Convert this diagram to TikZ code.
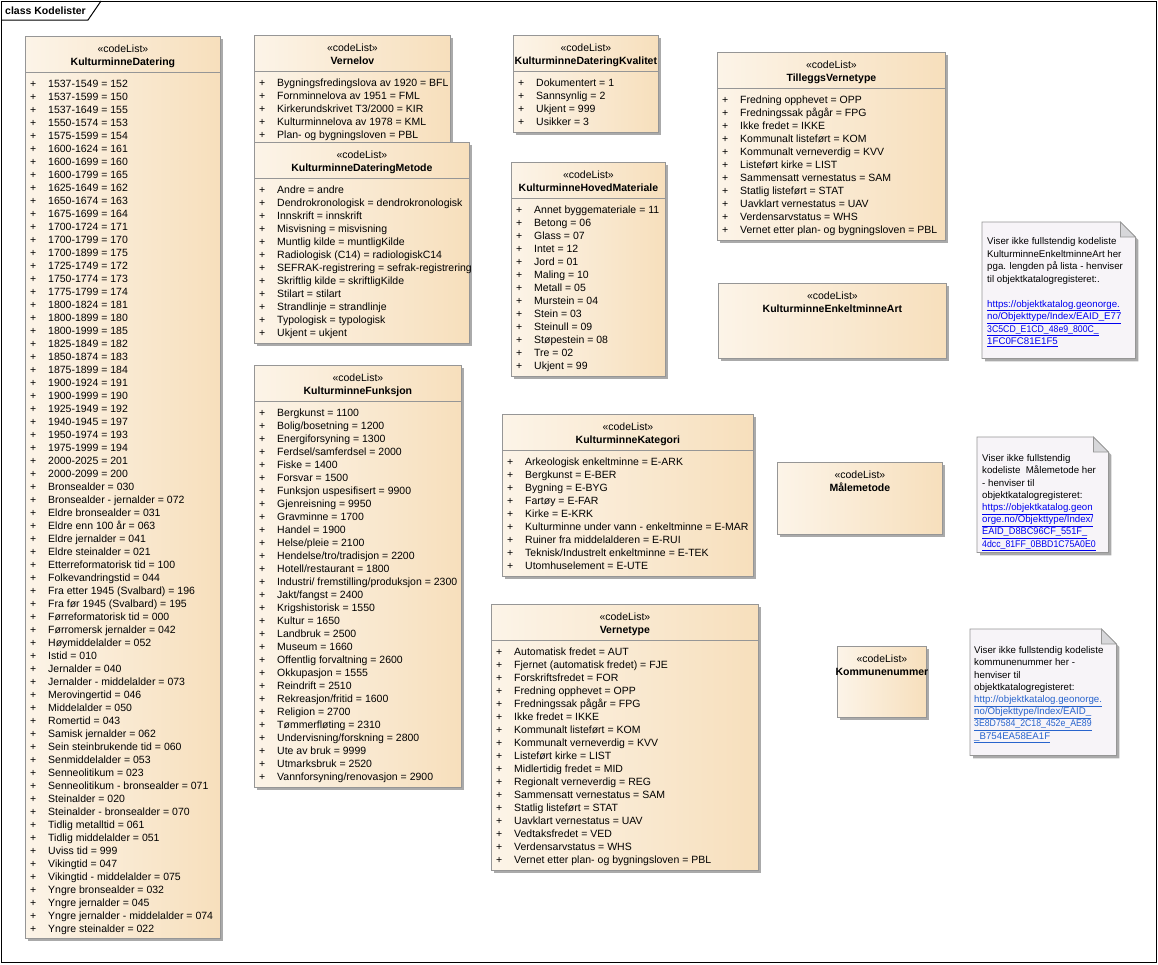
\documentclass[tikz,border=0pt]{standalone}
\usepackage{fontspec}
\setmainfont{Liberation Sans}
\usepackage{graphicx}
\usepackage{tikz}
\usetikzlibrary{calc,shadows,positioning}
\definecolor{boxleft}{RGB}{252,244,232}
\definecolor{boxright}{RGB}{247,223,188}
\definecolor{boxline}{RGB}{150,150,150}
\definecolor{shade}{RGB}{170,170,170}
\definecolor{notefill}{RGB}{247,244,248}
\definecolor{foldgray}{RGB}{215,215,218}
\definecolor{linkblue}{RGB}{0,0,240}
\definecolor{linkblue2}{RGB}{40,100,205}
\tikzset{
  codebox/.style={draw=boxline, line width=0.8pt, left color=boxleft, right color=boxright,
                  anchor=north west, inner sep=0pt,
                  general shadow={fill=shade, shadow xshift=3pt, shadow yshift=-3pt}},
  stereo/.style={anchor=base, inner sep=0pt, font=\fontsize{10.5}{13}\selectfont},
  cname/.style={anchor=base, inner sep=0pt, font=\fontsize{10.5}{13}\selectfont\bfseries},
  item/.style={anchor=base west, inner sep=0pt, font=\fontsize{10.5}{13}\selectfont},
  divider/.style={draw=boxline, line width=0.8pt},
  noteanchor/.style={anchor=north west, inner sep=0pt, draw=none},
  notebg/.style={draw=boxline, line width=0.8pt, fill=notefill,
                 general shadow={fill=shade, shadow xshift=3pt, shadow yshift=-3pt}},
  notefold/.style={draw=boxline, line width=0.8pt, fill=foldgray},
  notetxt/.style={anchor=north west, inner sep=0pt, align=left, font=\fontsize{9.7}{12.5}\selectfont}
}
\begin{document}
\begin{tikzpicture}[x=1pt, y=-1pt]
  \useasboundingbox (0,0) rectangle (1158,964);
  \fill[white] (0,0) rectangle (1158,964);
  \draw[line width=1pt] (1,1) rectangle (1156,962);
  \node[anchor=west, inner sep=0pt, font=\fontsize{10.5}{13}\selectfont\bfseries] (title) at (5,10.5) {class Kodelister};
  \draw[line width=1pt] (1,20) -- (88,20) -- (101,1);

  \node[codebox, minimum width=195pt, minimum height=902pt] (dat) at (25,36) {};
  \node[stereo] (datS) at ($(dat.north)+(0,16)$) {«codeList»};
  \node[cname] (datN) at ($(dat.north)+(0,29)$) {KulturminneDatering};
  \draw[divider] ($(dat.north west)+(0,36)$) -- ($(dat.north east)+(0,36)$);
  \foreach \t [count=\i] in {1537-1549 = 152, 1537-1599 = 150, 1537-1649 = 155, 1550-1574 = 153,
      1575-1599 = 154, 1600-1624 = 161, 1600-1699 = 160, 1600-1799 = 165, 1625-1649 = 162,
      1650-1674 = 163, 1675-1699 = 164, 1700-1724 = 171, 1700-1799 = 170, 1700-1899 = 175,
      1725-1749 = 172, 1750-1774 = 173, 1775-1799 = 174, 1800-1824 = 181, 1800-1899 = 180,
      1800-1999 = 185, 1825-1849 = 182, 1850-1874 = 183, 1875-1899 = 184, 1900-1924 = 191,
      1900-1999 = 190, 1925-1949 = 192, 1940-1945 = 197, 1950-1974 = 193, 1975-1999 = 194,
      2000-2025 = 201, 2000-2099 = 200, Bronsealder = 030, Bronsealder - jernalder = 072,
      Eldre bronsealder = 031, Eldre enn 100 år = 063, Eldre jernalder = 041,
      Eldre steinalder = 021, Etterreformatorisk tid = 100, Folkevandringstid = 044,
      Fra etter 1945 (Svalbard) = 196, Fra før 1945 (Svalbard) = 195,
      Førreformatorisk tid = 000, Førromersk jernalder = 042, Høymiddelalder = 052,
      Istid = 010, Jernalder = 040, Jernalder - middelalder = 073, Merovingertid = 046,
      Middelalder = 050, Romertid = 043, Samisk jernalder = 062, Sein steinbrukende tid = 060,
      Senmiddelalder = 053, Senneolitikum = 023, Senneolitikum - bronsealder = 071,
      Steinalder = 020, Steinalder - bronsealder = 070, Tidlig metalltid = 061,
      Tidlig middelalder = 051, Uviss tid = 999, Vikingtid = 047, Vikingtid - middelalder = 075,
      Yngre bronsealder = 032, Yngre jernalder = 045, Yngre jernalder - middelalder = 074,
      Yngre steinalder = 022}
    \node[item] (dat\i) at ($(dat.north west)+(23,38+13*\i)$) {\llap{+\hspace{12pt}}\t};

  \node[codebox, minimum width=196pt, minimum height=110pt] (vlov) at (254,35) {};
  \node[stereo] (vlovS) at ($(vlov.north)+(0,16)$) {«codeList»};
  \node[cname] (vlovN) at ($(vlov.north)+(0,29)$) {Vernelov};
  \draw[divider] ($(vlov.north west)+(0,36)$) -- ($(vlov.north east)+(0,36)$);
  \foreach \t [count=\i] in {Bygningsfredingslova av 1920 = BFL, Fornminnelova av 1951 = FML,
      Kirkerundskrivet T3/2000 = KIR, Kulturminnelova av 1978 = KML, Plan- og bygningsloven = PBL}
    \node[item] (vlov\i) at ($(vlov.north west)+(23,38+13*\i)$) {\llap{+\hspace{12pt}}\t};

  \node[codebox, minimum width=215pt, minimum height=201pt] (metode) at (254,142) {};
  \node[stereo] (metodeS) at ($(metode.north)+(0,16)$) {«codeList»};
  \node[cname] (metodeN) at ($(metode.north)+(0,29)$) {KulturminneDateringMetode};
  \draw[divider] ($(metode.north west)+(0,36)$) -- ($(metode.north east)+(0,36)$);
  \foreach \t [count=\i] in {Andre = andre, Dendrokronologisk = dendrokronologisk,
      Innskrift = innskrift, Misvisning = misvisning, Muntlig kilde = muntligKilde,
      Radiologisk (C14) = radiologiskC14, SEFRAK-registrering = sefrak-registrering,
      Skriftlig kilde = skriftligKilde, Stilart = stilart, Strandlinje = strandlinje,
      Typologisk = typologisk, Ukjent = ukjent}
    \node[item] (metode\i) at ($(metode.north west)+(23,38+13*\i)$) {\llap{+\hspace{12pt}}\t};

  \node[codebox, minimum width=207pt, minimum height=422pt] (funk) at (254,365) {};
  \node[stereo] (funkS) at ($(funk.north)+(0,16)$) {«codeList»};
  \node[cname] (funkN) at ($(funk.north)+(0,29)$) {KulturminneFunksjon};
  \draw[divider] ($(funk.north west)+(0,36)$) -- ($(funk.north east)+(0,36)$);
  \foreach \t [count=\i] in {Bergkunst = 1100, Bolig/bosetning = 1200, Energiforsyning = 1300,
      Ferdsel/samferdsel = 2000, Fiske = 1400, Forsvar = 1500, Funksjon uspesifisert = 9900,
      Gjenreisning = 9950, Gravminne = 1700, Handel = 1900, Helse/pleie = 2100,
      Hendelse/tro/tradisjon = 2200, Hotell/restaurant = 1800,
      Industri/ fremstilling/produksjon = 2300, Jakt/fangst = 2400, Krigshistorisk = 1550,
      Kultur = 1650, Landbruk = 2500, Museum = 1660, Offentlig forvaltning = 2600,
      Okkupasjon = 1555, Reindrift = 2510, Rekreasjon/fritid = 1600, Religion = 2700,
      Tømmerfløting = 2310, Undervisning/forskning = 2800, Ute av bruk = 9999,
      Utmarksbruk = 2520, Vannforsyning/renovasjon = 2900}
    \node[item] (funk\i) at ($(funk.north west)+(23,38+13*\i)$) {\llap{+\hspace{12pt}}\t};

  \node[codebox, minimum width=145pt, minimum height=97pt] (kval) at (513,35) {};
  \node[stereo] (kvalS) at ($(kval.north)+(0,16)$) {«codeList»};
  \node[cname] (kvalN) at ($(kval.north)+(0,29)$) {KulturminneDateringKvalitet};
  \draw[divider] ($(kval.north west)+(0,36)$) -- ($(kval.north east)+(0,36)$);
  \foreach \t [count=\i] in {Dokumentert = 1, Sannsynlig = 2, Ukjent = 999, Usikker = 3}
    \node[item] (kval\i) at ($(kval.north west)+(23,38+13*\i)$) {\llap{+\hspace{12pt}}\t};

  \node[codebox, minimum width=154pt, minimum height=214pt] (mat) at (511,162) {};
  \node[stereo] (matS) at ($(mat.north)+(0,16)$) {«codeList»};
  \node[cname] (matN) at ($(mat.north)+(0,29)$) {KulturminneHovedMateriale};
  \draw[divider] ($(mat.north west)+(0,36)$) -- ($(mat.north east)+(0,36)$);
  \foreach \t [count=\i] in {Annet byggemateriale = 11, Betong = 06, Glass = 07, Intet = 12,
      Jord = 01, Maling = 10, Metall = 05, Murstein = 04, Stein = 03, Steinull = 09,
      Støpestein = 08, Tre = 02, Ukjent = 99}
    \node[item] (mat\i) at ($(mat.north west)+(23,38+13*\i)$) {\llap{+\hspace{12pt}}\t};

  \node[codebox, minimum width=228pt, minimum height=188pt] (tillegg) at (717,52) {};
  \node[stereo] (tilleggS) at ($(tillegg.north)+(0,16)$) {«codeList»};
  \node[cname] (tilleggN) at ($(tillegg.north)+(0,29)$) {TilleggsVernetype};
  \draw[divider] ($(tillegg.north west)+(0,36)$) -- ($(tillegg.north east)+(0,36)$);
  \foreach \t [count=\i] in {Fredning opphevet = OPP, Fredningssak pågår = FPG,
      Ikke fredet = IKKE, Kommunalt listeført = KOM, Kommunalt verneverdig = KVV,
      Listeført kirke = LIST, Sammensatt vernestatus = SAM, Statlig listeført = STAT,
      Uavklart vernestatus = UAV, Verdensarvstatus = WHS,
      Vernet etter plan- og bygningsloven = PBL}
    \node[item] (tillegg\i) at ($(tillegg.north west)+(23,38+13*\i)$) {\llap{+\hspace{12pt}}\t};

  \node[codebox, minimum width=228pt, minimum height=75pt] (art) at (718,283) {};
  \node[stereo] (artS) at ($(art.north)+(0,16)$) {«codeList»};
  \node[cname] (artN) at ($(art.north)+(0,29)$) {KulturminneEnkeltminneArt};

  \node[codebox, minimum width=251pt, minimum height=162pt] (kat) at (502,414) {};
  \node[stereo] (katS) at ($(kat.north)+(0,16)$) {«codeList»};
  \node[cname] (katN) at ($(kat.north)+(0,29)$) {KulturminneKategori};
  \draw[divider] ($(kat.north west)+(0,36)$) -- ($(kat.north east)+(0,36)$);
  \foreach \t [count=\i] in {Arkeologisk enkeltminne = E-ARK, Bergkunst = E-BER,
      Bygning = E-BYG, Fartøy = E-FAR, Kirke = E-KRK,
      Kulturminne under vann - enkeltminne = E-MAR, Ruiner fra middelalderen = E-RUI,
      Teknisk/Industrelt enkeltminne = E-TEK, Utomhuselement = E-UTE}
    \node[item] (kat\i) at ($(kat.north west)+(23,38+13*\i)$) {\llap{+\hspace{12pt}}\t};

  \node[codebox, minimum width=165pt, minimum height=72pt] (maale) at (777,462) {};
  \node[stereo] (maaleS) at ($(maale.north)+(0,16)$) {«codeList»};
  \node[cname] (maaleN) at ($(maale.north)+(0,29)$) {Målemetode};

  \node[codebox, minimum width=267pt, minimum height=266pt] (vtype) at (491,604) {};
  \node[stereo] (vtypeS) at ($(vtype.north)+(0,16)$) {«codeList»};
  \node[cname] (vtypeN) at ($(vtype.north)+(0,29)$) {Vernetype};
  \draw[divider] ($(vtype.north west)+(0,36)$) -- ($(vtype.north east)+(0,36)$);
  \foreach \t [count=\i] in {Automatisk fredet = AUT, Fjernet (automatisk fredet) = FJE,
      Forskriftsfredet = FOR, Fredning opphevet = OPP, Fredningssak pågår = FPG,
      Ikke fredet = IKKE, Kommunalt listeført = KOM, Kommunalt verneverdig = KVV,
      Listeført kirke = LIST, Midlertidig fredet = MID, Regionalt verneverdig = REG,
      Sammensatt vernestatus = SAM, Statlig listeført = STAT, Uavklart vernestatus = UAV,
      Vedtaksfredet = VED, Verdensarvstatus = WHS, Vernet etter plan- og bygningsloven = PBL}
    \node[item] (vtype\i) at ($(vtype.north west)+(23,38+13*\i)$) {\llap{+\hspace{12pt}}\t};

  \node[codebox, minimum width=89pt, minimum height=71pt] (komm) at (837,646) {};
  \node[stereo] (kommS) at ($(komm.north)+(0,16)$) {«codeList»};
  \node[cname] (kommN) at ($(komm.north)+(0,29)$) {Kommunenummer};

  \node[noteanchor, minimum width=153pt, minimum height=136pt] (noteArt) at (982,222) {};
  \path[notebg] (noteArt.north west) -- ($(noteArt.north east)+(-15,0)$)
    -- ($(noteArt.north east)+(0,15)$) -- (noteArt.south east) -- (noteArt.south west) -- cycle;
  \path[notefold] ($(noteArt.north east)+(-15,0)$) -- ($(noteArt.north east)+(-15,15)$)
    -- ($(noteArt.north east)+(0,15)$) -- cycle;
  \node[notetxt] (noteArtT) at ($(noteArt.north west)+(5,15.5)$) {Viser ikke fullstendig kodeliste\\
    KulturminneEnkeltminneArt her\\ pga. lengden på lista - henviser\\ til objektkatalogregisteret:.\\[12.5pt]
    {\color{linkblue}\underline{https://objektkatalog.geonorge.}}\\
    {\color{linkblue}\underline{no/Objekttype/Index/EAID\_E77}}\\
    {\color{linkblue}\scalebox{0.9}[1]{\underline{3C5CD\_E1CD\_48e9\_800C\_}}}\\
    {\color{linkblue}\underline{1FC0FC81E1F5}}};

  \node[noteanchor, minimum width=131pt, minimum height=115pt] (noteMaale) at (977,437) {};
  \path[notebg] (noteMaale.north west) -- ($(noteMaale.north east)+(-15,0)$)
    -- ($(noteMaale.north east)+(0,15)$) -- (noteMaale.south east) -- (noteMaale.south west) -- cycle;
  \path[notefold] ($(noteMaale.north east)+(-15,0)$) -- ($(noteMaale.north east)+(-15,15)$)
    -- ($(noteMaale.north east)+(0,15)$) -- cycle;
  \node[notetxt, font=\fontsize{9.7}{12.2}\selectfont] (noteMaaleT) at ($(noteMaale.north west)+(5,17.5)$) {Viser ikke fullstendig\\
    kodeliste\ \ Målemetode her\\ - henviser til\\ objektkatalogregisteret:\\
    {\color{linkblue}\underline{https://objektkatalog.geon}}\\
    {\color{linkblue}\underline{orge.no/Objekttype/Index/}}\\
    {\color{linkblue}\scalebox{0.95}[1]{\underline{EAID\_D8BC96CF\_551F\_}}}\\
    {\color{linkblue}\scalebox{0.9}[1]{\underline{4dcc\_81FF\_0BBD1C75A0E0}}}};

  \node[noteanchor, minimum width=146pt, minimum height=126pt] (noteKomm) at (970,629) {};
  \path[notebg] (noteKomm.north west) -- ($(noteKomm.north east)+(-15,0)$)
    -- ($(noteKomm.north east)+(0,15)$) -- (noteKomm.south east) -- (noteKomm.south west) -- cycle;
  \path[notefold] ($(noteKomm.north east)+(-15,0)$) -- ($(noteKomm.north east)+(-15,15)$)
    -- ($(noteKomm.north east)+(0,15)$) -- cycle;
  \node[notetxt, font=\fontsize{9.7}{12.2}\selectfont] (noteKommT) at ($(noteKomm.north west)+(4,17.5)$) {Viser ikke fullstendig kodeliste\\
    kommunenummer her -\\ henviser til\\ objektkatalogregisteret:\\
    {\color{linkblue2}\underline{http://objektkatalog.geonorge.}}\\
    {\color{linkblue2}\underline{no/Objekttype/Index/EAID\_}}\\
    {\color{linkblue2}\scalebox{0.9}[1]{\underline{3E8D7584\_2C18\_452e\_AE89}}}\\
    {\color{linkblue2}\underline{\_B754EA58EA1F}}};
\end{tikzpicture}
\end{document}
